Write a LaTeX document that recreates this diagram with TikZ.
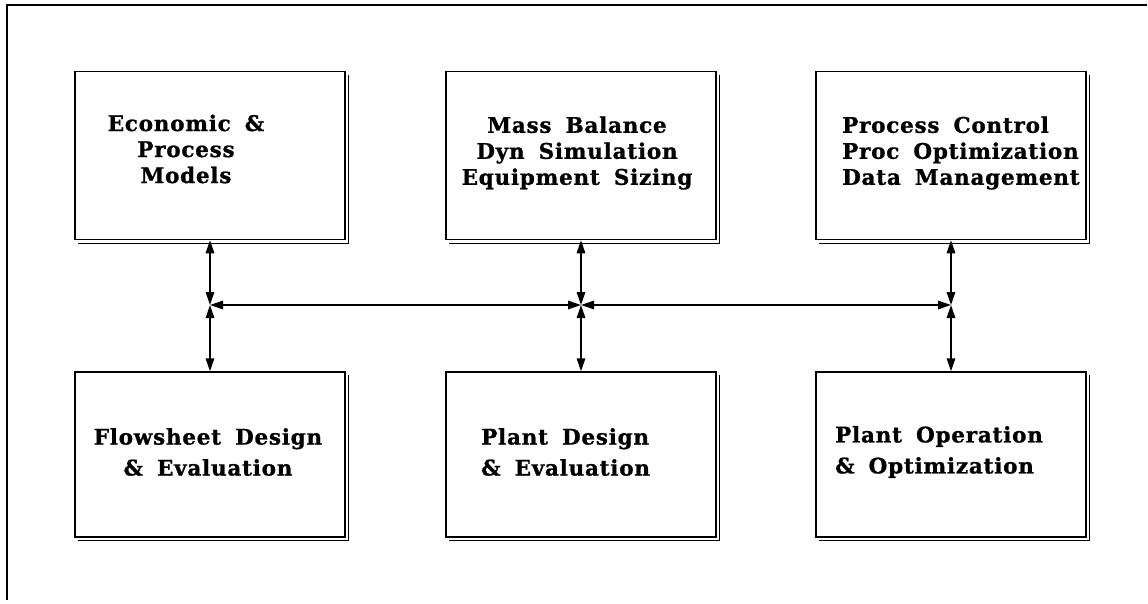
\documentclass[tikz,border=0pt]{standalone}
\usepackage{fontspec}
\usetikzlibrary{arrows.meta}
\newfontfamily\boxfont{DejaVu Serif Bold}[LetterSpace=3.5, WordSpace=1.7, FakeBold=1]
\tikzset{
  blk/.style={draw, line width=1.5pt, minimum width=270pt, inner sep=0pt},
  toprow/.style={blk, minimum height=168pt},
  botrow/.style={blk, minimum height=165pt},
  lbl/.style={inner sep=0pt, font=\boxfont\fontsize{21.5}{26}\selectfont},
  lblwide/.style={inner sep=0pt, font=\boxfont\fontsize{21.5}{31}\selectfont},
  link/.style={line width=1.5pt, {Triangle[length=13pt,width=8.5pt]}-{Triangle[length=13pt,width=8.5pt]}},
  shadowline/.style={line width=0.9pt}
}
\begin{document}
\begin{tikzpicture}[x=1pt,y=-1pt]
\useasboundingbox (0,0) rectangle (1148,603);
% outer frame (top and left)
\coordinate (fTR) at (1147,5);
\coordinate (fTL) at (7,5);
\coordinate (fBL) at (7,600);
\draw[line width=1.2pt] (fTR) -- (fTL) -- (fBL);

% boxes
\node[toprow] (econ) at (210,155.5) {};
\node[toprow] (mass) at (581,155.5) {};
\node[toprow] (ctrl) at (951,155.5) {};
\node[botrow] (flow) at (210,454.5) {};
\node[botrow] (plant) at (581,454.5) {};
\node[botrow] (oper) at (951,454.5) {};

% shadows
\foreach \n in {econ,mass,ctrl,flow,plant,oper}{
  \draw[shadowline] ([shift={(3,4)}]\n.north east) -- ([shift={(3,3)}]\n.south east) -- ([shift={(4,3)}]\n.south west);
}

% texts
\node[lbl, align=center] (econT) at (186,149) {Economic \&\\Process\\Models};
\node[lbl, align=center] (massT) at (577,153) {Mass Balance\\Dyn Simulation\\Equipment Sizing};
\node[lbl, align=left, anchor=west] (ctrlT) at (842,153) {Process Control\\Proc Optimization\\Data Management};
\node[lblwide, align=center] (flowT) at (208,452) {Flowsheet Design\\\& Evaluation};
\node[lblwide, align=left, anchor=west] (plantT) at (481,452) {Plant Design\\\& Evaluation};
\node[lblwide, align=left, anchor=west] (operT) at (835,452) {Plant Operation\\\& Optimization};

% junctions
\coordinate (j1) at (210,305);
\coordinate (j2) at (581,305);
\coordinate (j3) at (951,305);

\draw[link] (econ.south) -- (j1);
\draw[link] (j1) -- (flow.north);
\draw[link] (mass.south) -- (j2);
\draw[link] (j2) -- (plant.north);
\draw[link] (ctrl.south) -- (j3);
\draw[link] (j3) -- (oper.north);
\draw[link] (j1) -- (j2);
\draw[link] (j2) -- (j3);
\end{tikzpicture}
\end{document}
